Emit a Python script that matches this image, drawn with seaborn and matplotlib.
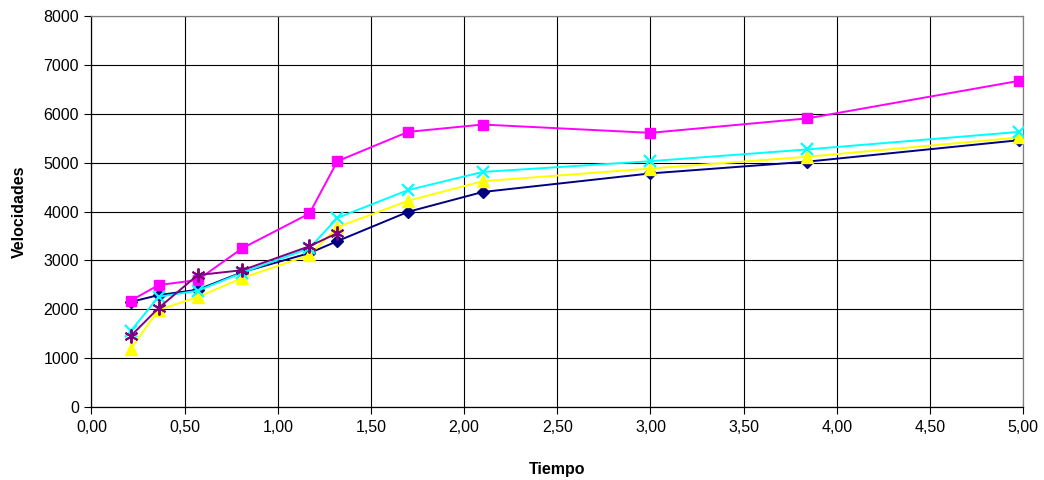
import matplotlib
matplotlib.use("Agg")
import matplotlib.pyplot as plt
import seaborn as sns
import pandas as pd
from matplotlib.ticker import FuncFormatter, MultipleLocator

tiempo = [0.21, 0.36, 0.57, 0.81, 1.17, 1.32, 1.70, 2.10, 3.00, 3.84, 4.98]
serie_1 = [2150, 2290, 2400, 2760, 3150, 3395, 3995, 4400, 4780, 5020, 5460]
serie_2 = [2175, 2495, 2600, 3250, 3960, 5030, 5630, 5780, 5610, 5905, 6675]
serie_3 = [1185, 1985, 2250, 2640, 3110, 3680, 4220, 4620, 4880, 5120, 5515]
serie_4 = [1550, 2255, 2380, 2750, 3250, 3870, 4440, 4810, 5030, 5270, 5630]
tiempo_5 = [0.21, 0.36, 0.57, 0.81, 1.17, 1.32]
serie_5 = [1450, 2025, 2700, 2800, 3290, 3560]

sns.set_style("white")
plt.rcParams['font.family'] = ['Liberation Sans', 'DejaVu Sans']
plt.rcParams['text.color'] = 'black'
plt.rcParams['axes.labelcolor'] = 'black'
plt.rcParams['xtick.color'] = 'black'
plt.rcParams['ytick.color'] = 'black'

fig = plt.figure(figsize=(10.44, 4.8), dpi=100)
ax = fig.add_axes([0.0876, 0.152, 0.8924, 0.8146])

specs = [
    (tiempo, serie_1, '#000080', 'D', 6, 1.0),
    (tiempo, serie_2, '#FF00FF', 's', 7, 1.0),
    (tiempo, serie_3, '#FFFF00', '^', 8, 1.0),
    (tiempo, serie_4, '#00FFFF', 'x', 8, 1.6),
    (tiempo_5, serie_5, '#800080', (6, 2, 0), 10, 1.4),
]
for i, (xs, ys, col, mk, ms, mew) in enumerate(specs):
    df = pd.DataFrame({'Tiempo': xs, 'Velocidades': ys})
    sns.lineplot(data=df, x='Tiempo', y='Velocidades', ax=ax, color=col,
                 marker=mk, markersize=ms, markeredgewidth=mew,
                 markeredgecolor=col, markerfacecolor=col, linewidth=1.4,
                 sort=False, zorder=3 + i)

ax.set_xlim(0, 5)
ax.set_ylim(0, 8000)
ax.xaxis.set_major_locator(MultipleLocator(0.5))
ax.yaxis.set_major_locator(MultipleLocator(1000))
ax.xaxis.set_major_formatter(FuncFormatter(lambda v, p: f"{v:.2f}".replace('.', ',')))
ax.yaxis.set_major_formatter(FuncFormatter(lambda v, p: f"{int(v)}"))
ax.grid(True, color='#000000', linewidth=0.8)
ax.set_axisbelow(True)
for s in ax.spines.values():
    s.set_color('#000000')
    s.set_linewidth(0.9)
ax.spines['right'].set_color('#808080')
ax.spines['top'].set_color('#808080')
ax.tick_params(axis='both', direction='out', length=5, width=0.8, color='black',
               labelcolor='black', labelsize=11.5, left=True, bottom=True, pad=4)
ax.set_xlabel('Tiempo', fontsize=11.5, fontweight='bold', labelpad=20, color='black')
ax.set_ylabel('Velocidades', fontsize=11.5, fontweight='bold', labelpad=12, color='black')

fig.savefig('out.png', dpi=100)
